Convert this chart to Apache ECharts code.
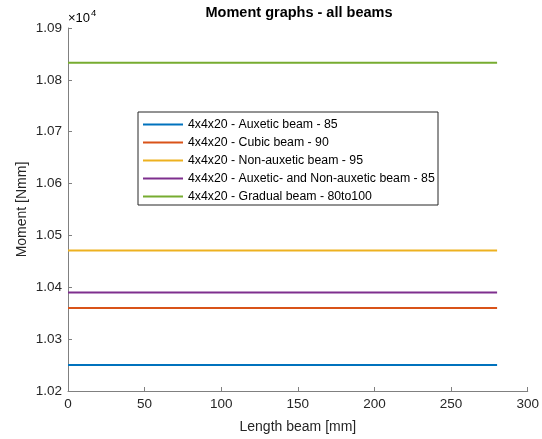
<!DOCTYPE html>
<html>
<head>
<meta charset="utf-8">
<script src="https://cdn.jsdelivr.net/npm/echarts@6/dist/echarts.min.js"></script>
<style>html,body{margin:0;padding:0;background:#fff}#c{width:542px;height:439px}</style>
</head>
<body>
<div id="c"></div>
<script>
const seriesNames = [
  '4x4x20 - Auxetic beam - 85',
  '4x4x20 - Cubic beam - 90',
  '4x4x20 - Non-auxetic beam - 95',
  '4x4x20 - Auxetic- and Non-auxetic beam - 85/95',
  '4x4x20 - Gradual beam - 80to100'
];
const lengthX = [0, 280];
const auxetic = [10250, 10250];
const cubic = [10360, 10360];
const nonAuxetic = [10471, 10471];
const mixed = [10390, 10390];
const gradual = [10833, 10833];
const colors = ['#0072BD', '#D95319', '#EDB120', '#7E2F8E', '#77AC30'];
const allValues = [auxetic, cubic, nonAuxetic, mixed, gradual];

const font = 'Liberation Sans, Arial, Helvetica, sans-serif';
const axisColor = '#262626';
const lineGray = '#808080';
const chart = echarts.init(document.getElementById('c'));
chart.setOption({
  animation: false,
  grid: {left: 68, right: 13, top: 28, bottom: 47},
  title: {
    text: 'Moment graphs - all beams',
    left: 299, top: 5, textAlign: 'center', padding: 0,
    textStyle: {fontFamily: font, fontSize: 14.5, fontWeight: 'bold', color: '#000'}
  },
  legend: {
    orient: 'vertical', left: 138, top: 112,
    backgroundColor: '#fff', borderColor: axisColor, borderWidth: 1,
    padding: [6, 2, 2, 5],
    itemWidth: 40, itemHeight: 2, itemGap: 5, icon: 'rect',
    textStyle: {fontFamily: font, fontSize: 12.3, color: '#000', lineHeight: 13,
      width: 248, overflow: 'truncate', ellipsis: ''},
    data: seriesNames
  },
  xAxis: {
    type: 'value', min: 0, max: 300, interval: 50,
    name: 'Length beam [mm]', nameLocation: 'middle', nameGap: 29, nameMoveOverlap: false,
    nameTextStyle: {fontFamily: font, fontSize: 14, color: axisColor},
    axisLine: {show: true, lineStyle: {color: lineGray, width: 1}},
    axisTick: {show: true, inside: true, length: 4, lineStyle: {color: lineGray}},
    axisLabel: {fontFamily: font, fontSize: 13.5, color: axisColor, margin: 6},
    splitLine: {show: false}
  },
  yAxis: {
    type: 'value', min: 10200, max: 10900, interval: 100,
    name: 'Moment [Nmm]', nameLocation: 'middle', nameGap: 39, nameMoveOverlap: false,
    nameTextStyle: {fontFamily: font, fontSize: 14, color: axisColor},
    axisLine: {show: true, lineStyle: {color: lineGray, width: 1}},
    axisTick: {show: true, inside: true, length: 4, lineStyle: {color: lineGray}},
    axisLabel: {fontFamily: font, fontSize: 13.5, color: axisColor, margin: 6,
      formatter: v => (v / 10000).toFixed(2)},
    splitLine: {show: false}
  },
  graphic: [{
    type: 'text', left: 68, top: 8,
    style: {
      text: '{a|×10}{b|4}', fontFamily: font,
      rich: {
        a: {fontFamily: font, fontSize: 13, color: axisColor, verticalAlign: 'bottom', padding: [4,0,0,0]},
        b: {fontFamily: font, fontSize: 9.5, color: axisColor, verticalAlign: 'top', padding: [0,0,6,1]}
      }
    }
  }],
  series: seriesNames.map((n, i) => ({
    name: n, type: 'line', showSymbol: false, symbol: 'none',
    lineStyle: {width: 2, color: colors[i]}, itemStyle: {color: colors[i]},
    data: lengthX.map((x, j) => [x, allValues[i][j]])
  }))
});
</script>
</body>
</html>
